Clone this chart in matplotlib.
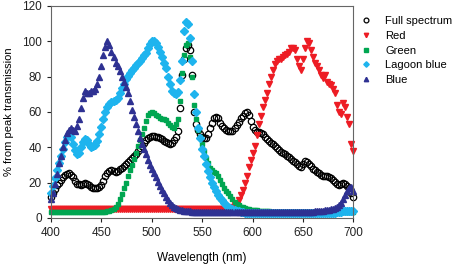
import numpy as np
import matplotlib
matplotlib.use("Agg")
import matplotlib.pyplot as plt

plt.rcParams["font.family"] = ["Liberation Sans", "DejaVu Sans"]

# wavelength grid (nm), one reading every 2 nm
wavelength = np.arange(400, 701, 2)

full_spectrum = [
    12, 14, 16.5, 18.5, 20, 21.5, 23, 24.5, 25, 25.5,            # 400-418
    24.5, 23, 21, 19.5, 19, 18.7, 19.2, 20, 19.5, 18.5,          # 420-438
    17.6, 17.2, 16.8, 17, 17.8, 18.7, 21, 24, 25.5, 26.5,        # 440-458
    27, 26.5, 26, 26.5, 28, 28.5, 29.5, 30.5, 31.5, 33,          # 460-478
    34, 35, 36.5, 38, 39.5, 41, 42.5, 44, 45, 46,                # 480-498
    46.5, 46.5, 46, 46, 45.5, 44.5, 43.5, 43, 42.5, 42,          # 500-518
    42.5, 44, 46, 49, 62, 81, 90, 96, 98, 95,                    # 520-538
    81, 60, 53, 50, 47.5, 46, 45.5, 45, 47.5, 51,                # 540-558
    54, 56.5, 57, 56.5, 54, 52, 51, 50, 49.5, 49,                # 560-578
    49.5, 51, 52.5, 54.5, 56.5, 58, 59.5, 60, 58.5, 55,          # 580-598
    51.6, 50, 48.8, 48.5, 48, 47.5, 46, 44.5, 43.5, 42.5,        # 600-618
    42, 40.5, 39.5, 38.5, 37.5, 36.6, 36, 35, 34.6, 33.5,        # 620-638
    32.5, 31.5, 30.5, 29.5, 29, 30.5, 32, 31.5, 30.5, 29.5,      # 640-658
    28, 27, 26, 25.5, 24.5, 24, 23.5, 23.5, 23, 22.5,            # 660-678
    21.5, 20.5, 19.5, 18.7, 19, 19.6, 19, 18, 17, 14,            # 680-698
    12,                                                          # 700
]

red = [
    5, 5, 5, 5, 5, 5, 5, 5, 5, 5,                                # 400-418
    5, 5, 5, 5, 5, 5, 5, 5, 5, 5,                                # 420-438
    5, 5, 5, 5, 5, 5, 5, 5, 5, 5,                                # 440-458
    5, 5, 5, 5, 5, 5, 5, 5, 5, 5,                                # 460-478
    5, 5, 5, 5, 5, 5, 5, 5, 5, 5,                                # 480-498
    5, 5, 5, 5, 5, 5, 5, 5, 5, 5,                                # 500-518
    5, 5, 5, 5, 5, 5, 5, 5, 5, 5,                                # 520-538
    5, 5, 5, 5, 5, 5, 5, 5, 5, 5,                                # 540-558
    5, 5, 5, 5, 5, 5, 5, 5, 5.2, 5.8,                            # 560-578
    6.5, 7.3, 8, 10, 13, 16, 20, 24, 29, 33,                     # 580-598
    37, 41, 47, 53, 58, 63, 67, 71, 76, 80,                      # 600-618
    84, 87, 89, 90, 90, 91, 92, 93, 94, 96,                      # 620-638
    96, 95, 90, 86, 84, 90, 96, 100, 99, 95,                     # 640-658
    91, 88, 86, 84, 81, 79, 81, 77, 76, 75,                      # 660-678
    73, 71, 64, 60, 59, 65, 63, 57, 53, 42,                      # 680-698
    38,                                                          # 700
]

green = [
    3.5, 3.5, 3.5, 3.5, 3.5, 3.5, 3.5, 3.5, 3.5, 3.5,            # 400-418
    3.5, 3.5, 3.5, 3.5, 3.5, 3.5, 3.5, 3.5, 3.5, 3.5,            # 420-438
    3.5, 3.5, 3.5, 3.5, 3.5, 3.5, 3.5, 3.5, 3.8, 4.1,            # 440-458
    4.5, 5.2, 6.2, 8, 10.5, 13.5, 17, 20, 23.5, 27,              # 460-478
    30, 33.5, 37, 40.5, 44, 47.5, 51, 55, 58.5, 59.5,            # 480-498
    60, 59.5, 58.5, 57.5, 56.6, 56, 56, 55.5, 54, 52.6,          # 500-518
    51.5, 51, 53, 56, 66, 82, 92, 98, 99, 91,                    # 520-538
    80, 64, 56, 50, 46, 42, 38, 34, 31, 28.5,                    # 540-558
    27, 26, 25.5, 24, 21.5, 19, 17, 15.5, 14, 12.5,              # 560-578
    10.5, 9, 8, 7.2, 6.5, 6, 5.5, 5.2, 5, 4.7,                   # 580-598
    4.5, 4.4, 4.3, 4.2, 4.1, 4, 3.9, 3.8, 3.7, 3.6,              # 600-618
    3.5, 3.5, 3.5, 3.5, 3.5, 3.5, 3.5, 3.5, 3.5, 3.5,            # 620-638
    3.5, 3.5, 3.5, 3.5, 3.5, 3.5, 3.5, 3.5, 3.5, 3.5,            # 640-658
    3.5, 3.5, 3.5, 3.5, 3.5, 3.5, 3.5, 3.5, 3.5, 3.5,            # 660-678
    3.5, 3.5, 3.5, 3.5, 3.5, 3.5, 3.5, 3.5, 3.5, 3.5,            # 680-698
    3.5,                                                         # 700
]

lagoon_blue = [
    14, 18, 22.5, 27, 31, 35, 39, 43, 46, 47.5,                  # 400-418
    46, 42, 38.5, 36.5, 37, 40, 43, 44.5, 44, 42,                # 420-438
    40, 40.5, 41.5, 43.5, 47.5, 51.5, 56, 60, 63, 64.5,          # 440-458
    65.5, 66, 67, 68, 71, 73.5, 76, 78.5, 80.5, 82,              # 460-478
    83.5, 85, 86.5, 87.5, 89, 90.5, 92, 93.5, 96, 98.5,          # 480-498
    100, 100, 99, 97, 94, 91, 88, 85, 80, 76,                    # 500-518
    72, 70.5, 70, 71.5, 78, 89, 106, 111, 110, 102,              # 520-538
    89, 70, 60, 51, 45, 39, 35, 30.5, 26.5, 23,                  # 540-558
    20, 17.5, 15, 13, 11.5, 10, 8.5, 7.5, 6.5, 5.8,              # 560-578
    5, 4.6, 4.2, 3.9, 3.6, 3.4, 3, 3, 3, 3,                      # 580-598
    3, 3, 3, 3, 3, 3, 3, 3, 3, 3,                                # 600-618
    3, 3, 3, 3, 3, 3, 3, 3, 3, 3,                                # 620-638
    3, 3, 3, 3, 3, 3, 3, 3, 3, 3,                                # 640-658
    3, 3, 3, 3, 3, 3, 3, 3, 3, 3,                                # 660-678
    3, 3.1, 3.2, 3.4, 3.6, 3.8, 4, 4, 4, 4,                      # 680-698
    4,                                                           # 700
]

blue = [
    11, 14, 19, 25, 31, 35, 40, 44, 48, 50,                      # 400-418
    51, 50, 49, 52, 56, 62, 68, 72, 71, 71,                      # 420-438
    72, 72, 73, 76, 80, 86, 92, 97, 100, 98,                     # 440-458
    94, 91, 88, 86, 83, 80, 77, 74, 71, 66,                      # 460-478
    61, 57, 53, 49, 45, 42, 39, 36, 33, 30,                      # 480-498
    28, 25.5, 23, 20.5, 18, 16, 14, 12, 10, 8.5,                 # 500-518
    7.3, 6.5, 5.8, 5.2, 4.8, 4.5, 4.2, 4, 3.9, 3.8,              # 520-538
    3.6, 3.6, 3.6, 3.6, 3.6, 3.6, 3.6, 3.6, 3.6, 3.6,            # 540-558
    3.6, 3.6, 3.6, 3.6, 3.6, 3.6, 3.6, 3.6, 3.6, 3.6,            # 560-578
    3.6, 3.6, 3.6, 3.6, 3.6, 3.6, 3.6, 3.6, 3.6, 3.6,            # 580-598
    3.6, 3.6, 3.6, 3.6, 3.6, 3.6, 3.6, 3.6, 3.6, 3.6,            # 600-618
    3.6, 3.6, 3.6, 3.6, 3.6, 3.6, 3.6, 3.6, 3.6, 3.6,            # 620-638
    3.6, 3.6, 3.6, 3.6, 3.6, 3.6, 3.6, 3.6, 3.6, 3.6,            # 640-658
    3.6, 3.7, 3.8, 3.9, 4, 4.1, 4.3, 4.5, 4.7, 5,                # 660-678
    5.3, 5.7, 6.3, 7.2, 8.5, 10.5, 13, 15.5, 17, 17.5,           # 680-698
    15,                                                          # 700
]

series = [
    ("Full spectrum", full_spectrum, dict(marker="o", mfc="none", mec="black", mew=0.9, ms=4.6)),
    ("Red", red, dict(marker="v", color="#ed1c24", ms=4.2)),
    ("Green", green, dict(marker="s", color="#00a651", ms=3.5)),
    ("Lagoon blue", lagoon_blue, dict(marker="D", color="#1eb4ee", ms=3.7)),
    ("Blue", blue, dict(marker="^", color="#2e3192", ms=4.2)),
]

fig = plt.figure(figsize=(4.54, 2.65), dpi=100)
ax = fig.add_axes([0.1123, 0.1774, 0.6663, 0.8])

for label, vals, style in series:
    ax.plot(wavelength, vals, linestyle="none", label=label, clip_on=False, **style)

ax.set_xlim(400, 700)
ax.set_ylim(0, 120)
ax.set_xticks(range(400, 701, 50))
ax.set_yticks(range(0, 121, 20))
ax.tick_params(direction="out", length=3, width=0.8, labelsize=8.5, colors="#222222")
for sp in ax.spines.values():
    sp.set_color("#666666")
    sp.set_linewidth(0.8)

ax.set_xlabel("Wavelength (nm)", fontsize=8.5, labelpad=9)
ax.set_ylabel("% from peak transmission", fontsize=8, labelpad=6)

ax.legend(loc="upper left", bbox_to_anchor=(0.785, 0.955), bbox_transform=fig.transFigure,
          frameon=False, fontsize=8, handlelength=1.0, handletextpad=1.2,
          labelspacing=0.42, borderaxespad=0, markerscale=0.75)

fig.savefig("out.png", dpi=100)
